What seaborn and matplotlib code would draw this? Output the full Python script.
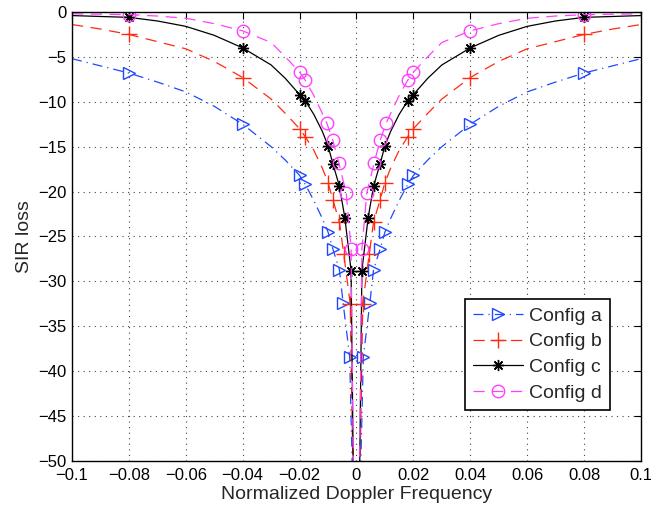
import numpy as np
import pandas as pd
import matplotlib
matplotlib.use("Agg")
import matplotlib.pyplot as plt
import seaborn as sns

# -----------------------------
# Data (positive frequency side, the curves are symmetric)
# -----------------------------

xa = [0.0008, 0.0024, 0.0047, 0.006, 0.0083, 0.01, 0.012, 0.015, 0.018, 0.02,
      0.025, 0.03, 0.04, 0.05, 0.06, 0.07, 0.08, 0.09, 0.1]
ya = [-60, -38.4, -32.4, -28.7, -26.4, -24.5, -23.0, -21.0, -19.2, -18.2,
      -16.5, -15.0, -12.5, -10.5, -8.9, -7.8, -6.8, -6.0, -5.2]

xb = [0.0008, 0.0022, 0.0045, 0.006, 0.0083, 0.01, 0.012, 0.015, 0.018, 0.02,
      0.025, 0.03, 0.04, 0.05, 0.06, 0.07, 0.08, 0.09, 0.1]
yb = [-60, -32.5, -26.9, -23.4, -20.9, -19.0, -17.4, -15.4, -13.9, -13.0,
      -11.3, -9.7, -7.3, -5.5, -4.1, -3.3, -2.5, -1.9, -1.4]

xc = [0.0008, 0.0019, 0.0041, 0.006, 0.0083, 0.01, 0.012, 0.015, 0.018, 0.02,
      0.025, 0.03, 0.04, 0.05, 0.06, 0.07, 0.08, 0.09, 0.1]
yc = [-60, -28.8, -22.9, -19.4, -16.9, -14.9, -13.3, -11.4, -9.9, -9.2,
      -7.4, -5.9, -4.0, -2.6, -1.6, -1.0, -0.6, -0.5, -0.4]

xd = [0.0008, 0.0019, 0.0036, 0.0062, 0.0083, 0.0104, 0.012, 0.015, 0.018, 0.02,
      0.025, 0.03, 0.04, 0.05, 0.06, 0.07, 0.08, 0.09, 0.1]
yd = [-60, -26.4, -20.2, -16.8, -14.3, -12.4, -11.3, -9.3, -7.6, -6.7,
      -5.0, -3.4, -2.1, -1.3, -0.7, -0.45, -0.3, -0.25, -0.2]

# indices (positive side) that carry a marker
marker_idx = [1, 2, 3, 4, 5, 8, 9, 12, 16]

labels = ["Config a", "Config b", "Config c", "Config d"]
xticks = [-0.1, -0.08, -0.06, -0.04, -0.02, 0, 0.02, 0.04, 0.06, 0.08, 0.1]
xtick_labels = ["\u22120.1", "\u22120.08", "\u22120.06", "\u22120.04", "\u22120.02", "0",
                "0.02", "0.04", "0.06", "0.08", "0.1"]
yticks = [-50, -45, -40, -35, -30, -25, -20, -15, -10, -5, 0]

# -----------------------------
# Plot
# -----------------------------

sns.set_style("white")
plt.rcParams["font.family"] = ["Liberation Sans", "DejaVu Sans"]

fig = plt.figure(figsize=(6.51, 5.12), dpi=100)
ax = fig.add_axes([0.1106, 0.0996, 0.8740, 0.8770])

styles = [
    dict(color="#1f48ff", ls=(0, (8, 4, 1, 4)), marker=">", ms=9),
    dict(color="#ff2a10", ls=(0, (9, 6)), marker="+", ms=11),
    dict(color="black", ls="-", marker=(8, 2, 0), ms=8),
    dict(color="#ff40ff", ls=(0, (9, 6)), marker="o", ms=9),
]

series = [(xa, ya), (xb, yb), (xc, yc), (xd, yd)]
for (xs, ys), lab, st in zip(series, labels, styles):
    xs = np.asarray(xs)
    ys = np.asarray(ys)
    n = len(xs)
    full_x = np.concatenate([-xs[::-1], xs])
    full_y = np.concatenate([ys[::-1], ys])
    every = [n - 1 - i for i in marker_idx] + [n + i for i in marker_idx]
    df = pd.DataFrame({"f": full_x, "loss": full_y})
    sns.lineplot(data=df, x="f", y="loss", ax=ax, sort=False, estimator=None,
                 color=st["color"], linestyle=st["ls"], linewidth=0.9,
                 marker=st["marker"], markersize=st["ms"], markevery=every,
                 markerfacecolor="none", markeredgecolor=st["color"],
                 markeredgewidth=1.0, label=lab)

ax.set_xlim(-0.1, 0.1)
ax.set_ylim(-50, 0)
ax.set_xticks(xticks)
ax.set_xticklabels(xtick_labels)
ax.set_yticks(yticks)
ax.set_yticklabels([str(v).replace("-", "\u2212") for v in yticks])
ax.tick_params(direction="in", length=5, width=0.8, top=True, right=True,
               labelsize=12, colors="black")
ax.tick_params(axis="x", pad=5)
ax.tick_params(axis="y", pad=4)
ax.grid(True, linestyle=(0, (1, 4)), color="#444444", linewidth=0.8)
for sp in ax.spines.values():
    sp.set_color("black")
    sp.set_linewidth(1.0)

ax.set_xlabel("Normalized Doppler Frequency", fontsize=14, labelpad=2)
ax.set_ylabel("SIR loss", fontsize=14, labelpad=4)

leg = ax.legend(loc="lower right", bbox_to_anchor=(0.945, 0.114), fontsize=14,
                frameon=True, fancybox=False, framealpha=1, edgecolor="black",
                handlelength=2.6, handletextpad=0.3, labelspacing=0.42,
                borderpad=0.4, borderaxespad=0, numpoints=1)
leg.get_frame().set_linewidth(1.2)

fig.savefig("out.png", dpi=100)
